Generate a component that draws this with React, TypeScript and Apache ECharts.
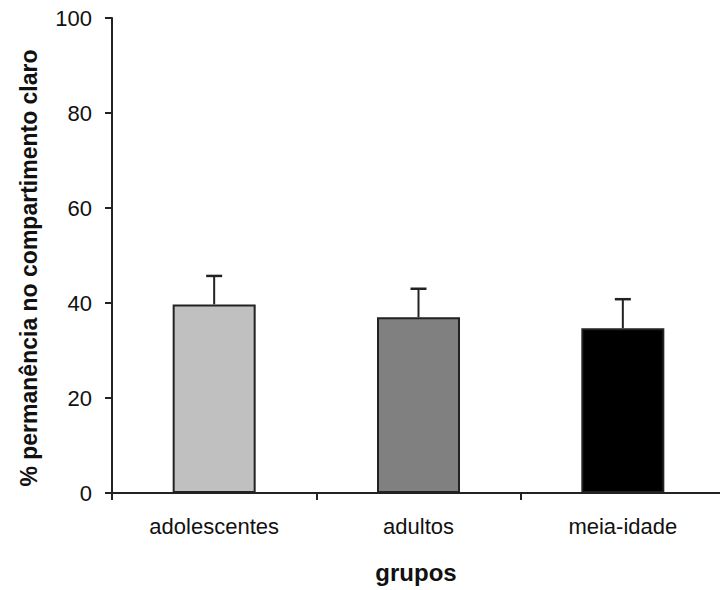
import React, { useEffect, useRef } from "react";
import * as echarts from "echarts";

const categories = ["adolescentes", "adultos", "meia-idade"];
const means = [39.7, 37.0, 34.7];
const upperErrors = [45.7, 43.0, 40.8];
const barColors = ["#C0C0C0", "#808080", "#000000"];
const yTicks = { min: 0, max: 100, interval: 20 };
const yTitle = "% permanência no compartimento claro";
const xTitle = "grupos";

const FONT = "'Liberation Sans', Arial, sans-serif";

export default function App() {
  const ref = useRef<HTMLDivElement>(null);
  useEffect(() => {
    document.body.style.margin = "0";
    const chart = echarts.init(ref.current!, undefined, { renderer: "svg" });
    chart.setOption({
      animation: false,
      backgroundColor: "#ffffff",
      grid: { left: 112, right: 0, top: 18, bottom: 97, containLabel: false },
      xAxis: {
        type: "category",
        data: categories,
        boundaryGap: true,
        axisLine: { show: true, lineStyle: { color: "#222", width: 2 } },
        axisTick: { show: true, length: 7, interval: 0, lineStyle: { color: "#222", width: 2 } },
        axisLabel: { margin: 22, fontSize: 22, color: "#111", fontFamily: FONT, interval: 0 },
        splitLine: { show: false },
      },
      yAxis: {
        type: "value",
        min: yTicks.min,
        max: yTicks.max,
        interval: yTicks.interval,
        axisLine: { show: true, lineStyle: { color: "#222", width: 2 } },
        axisTick: { show: true, length: 7, lineStyle: { color: "#222", width: 2 } },
        axisLabel: { margin: 20, fontSize: 22, color: "#111", fontFamily: FONT },
        splitLine: { show: false },
      },
      graphic: [
        {
          type: "text",
          x: 29,
          y: 268,
          rotation: Math.PI / 2,
          style: {
            text: yTitle,
            fontSize: 23,
            fontWeight: "bold",
            fontFamily: FONT,
            fill: "#111",
            textAlign: "center",
            textVerticalAlign: "middle",
          },
        },
        {
          type: "text",
          x: 416,
          y: 572,
          style: {
            text: xTitle,
            fontSize: 24,
            fontWeight: "bold",
            fontFamily: FONT,
            fill: "#111",
            textAlign: "center",
            textVerticalAlign: "middle",
          },
        },
      ],
      series: [
        {
          type: "bar",
          barWidth: 83,
          data: means.map((v, i) => ({
            value: v,
            itemStyle: { color: barColors[i], borderColor: "#222", borderWidth: 2 },
          })),
          z: 2,
        },
        {
          type: "custom",
          z: 3,
          data: categories.map((_, i) => [i, means[i], upperErrors[i]]),
          renderItem: (params: any, api: any) => {
            const x = api.value(0);
            const p0 = api.coord([x, api.value(1)]);
            const p1 = api.coord([x, api.value(2)]);
            return {
              type: "group",
              children: [
                {
                  type: "line",
                  shape: { x1: p0[0], y1: p0[1], x2: p1[0], y2: p1[1] },
                  style: { stroke: "#222", lineWidth: 2 },
                },
                {
                  type: "line",
                  shape: { x1: p1[0] - 8, y1: p1[1], x2: p1[0] + 8, y2: p1[1] },
                  style: { stroke: "#222", lineWidth: 2.5 },
                },
              ],
            };
          },
        },
      ],
    });
    return () => chart.dispose();
  }, []);
  return (
    <div
      style={{
        position: "fixed",
        left: 0,
        top: 0,
        width: 720,
        height: 590,
        overflow: "hidden",
        background: "#fff",
      }}
    >
      <div ref={ref} style={{ width: 725, height: 590 }} />
    </div>
  );
}
